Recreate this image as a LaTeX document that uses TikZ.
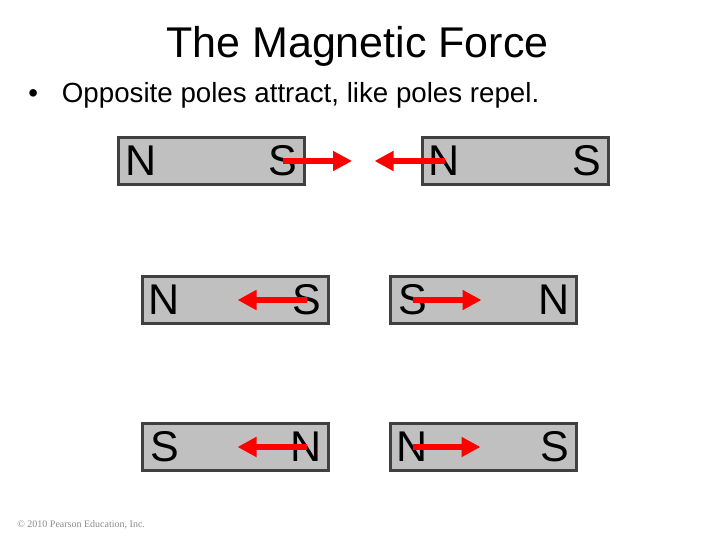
\documentclass[tikz,border=0pt]{standalone}
\usepackage{fontspec}
\setmainfont{Liberation Sans}
\newfontfamily\credfont{Liberation Serif}
\usetikzlibrary{positioning,arrows.meta}
\definecolor{magfill}{HTML}{C0C0C0}
\definecolor{magedge}{HTML}{404040}
\definecolor{credgray}{HTML}{8C8C8C}
\tikzset{every picture/.style={line width=0.75pt}}
\tikzset{
  mgbar/.style  ={rectangle, draw=magedge, fill=magfill, line width=3pt,
                  minimum width=186pt, minimum height=47pt, inner sep=0pt},
  mgpole/.style ={inner sep=0pt, font=\fontsize{43}{43}\selectfont},
  mgforce/.style={-{Triangle[width=19pt,length=19pt]}, draw=red, line width=6pt},
  mgtext/.style ={inner sep=0pt, anchor=base west},
}

\begin{document}
\begin{tikzpicture}[x=1pt, y=-1pt]
        \useasboundingbox (0,0) rectangle (720,540);
        % titolo e frase
        \node[anchor=base, font=\fontsize{43}{43}\selectfont] (title) at (357.5,58) {The Magnetic Force};
        \node[mgtext, font=\fontsize{27.7}{28}\selectfont] (lead) at (28,103)
             {\makebox[33.6pt][l]{•}Opposite poles attract, like poles repel.};
        % riga 1: poli opposti
        \node[mgbar] (m1a) at (211.5,161) {};
        \node[mgpole, xshift=24] (m1aN) at (m1a.west) {N};
        \node[mgpole, xshift=-23] (m1aS) at (m1a.east) {S};
        \node[mgbar] (m1b) at (515,161) {};
        \node[mgpole, xshift=24] (m1bN) at (m1b.west) {N};
        \node[mgpole, xshift=-23] (m1bS) at (m1b.east) {S};
        \coordinate (f1a) at ([xshift=69]m1aS.center);
        \coordinate (f1b) at ([xshift=-70]m1bN.center);
        \draw[mgforce] (m1aS.center) -- (f1a);
        \draw[mgforce] (m1bN.center) -- (f1b);
        % riga 2: S contro S
        \node[mgbar] (m2a) at (235,300) {};
        \node[mgpole, xshift=24] (m2aN) at (m2a.west) {N};
        \node[mgpole, xshift=-23] (m2aS) at (m2a.east) {S};
        \node[mgbar] (m2b) at (483,300) {};
        \node[mgpole, xshift=24] (m2bS) at (m2b.west) {S};
        \node[mgpole, xshift=-23] (m2bN) at (m2b.east) {N};
        \coordinate (f2a) at ([xshift=-69]m2aS.center);
        \coordinate (f2b) at ([xshift=69]m2bS.center);
        \draw[mgforce] (m2aS.center) -- (f2a);
        \draw[mgforce] (m2bS.center) -- (f2b);
        % riga 3: N contro N
        \node[mgbar] (m3a) at (235,447) {};
        \node[mgpole, xshift=24] (m3aS) at (m3a.west) {S};
        \node[mgpole, xshift=-23] (m3aN) at (m3a.east) {N};
        \node[mgbar] (m3b) at (483,447) {};
        \node[mgpole, xshift=24] (m3bN) at (m3b.west) {N};
        \node[mgpole, xshift=-23] (m3bS) at (m3b.east) {S};
        \coordinate (f3a) at ([xshift=-69]m3aN.center);
        \coordinate (f3b) at ([xshift=68]m3bN.center);
        \draw[mgforce] (m3aN.center) -- (f3a);
        \draw[mgforce] (m3bN.center) -- (f3b);
        % crediti
        \node[mgtext, font=\credfont\fontsize{10}{10}\selectfont, text=credgray] (cred) at (17,527)
             {© 2010 Pearson Education, Inc.};
    \end{tikzpicture}
\end{document}
